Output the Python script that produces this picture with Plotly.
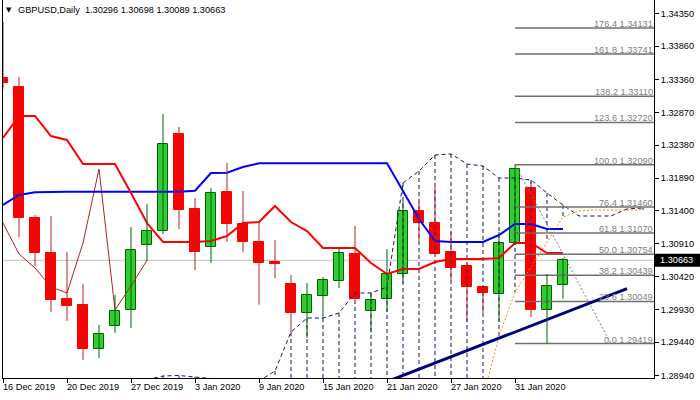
import plotly.graph_objects as go

# ---------------- data ----------------
symbol_title = "GBPUSD,Daily"
tick_idx = [0, 4, 8, 12, 16, 20, 24, 28, 32]
tick_labels = ["16 Dec 2019", "20 Dec 2019", "27 Dec 2019", "3 Jan 2020", "9 Jan 2020",
               "15 Jan 2020", "21 Jan 2020", "27 Jan 2020", "31 Jan 2020"]

opens = [1.33384, 1.33250, 1.31294, 1.30772, 1.30085, 1.29995, 1.29339, 1.29682, 1.29921, 1.30891,
         1.31100, 1.32548, 1.31429, 1.30861, 1.31682, 1.31205, 1.30936, 1.30630, 1.30309, 1.29876,
         1.30130, 1.30354, 1.30757, 1.29906, 1.30085, 1.30458, 1.31399, 1.31220, 1.30787, 1.30578,
         1.30264, 1.30160, 1.30921, 1.31742, 1.29921, 1.30296]
highs = [1.34220, 1.33399, 1.31339, 1.31324, 1.30787, 1.30309, 1.29697, 1.30145, 1.31160, 1.31503,
         1.32847, 1.32653, 1.31593, 1.31742, 1.32115, 1.31697, 1.31234, 1.30966, 1.30443, 1.30324,
         1.30413, 1.30846, 1.31175, 1.30175, 1.30831, 1.31548, 1.31533, 1.31757, 1.31085, 1.30622,
         1.30264, 1.31085, 1.32090, 1.31832, 1.30458, 1.30698]
lows = [1.33220, 1.31006, 1.30578, 1.29891, 1.29757, 1.29174, 1.29204, 1.29578, 1.29652, 1.30652,
        1.31055, 1.31130, 1.30518, 1.30622, 1.30936, 1.30787, 1.30000, 1.30398, 1.29592, 1.29503,
        1.29816, 1.30249, 1.30070, 1.29592, 1.29891, 1.30324, 1.30951, 1.30742, 1.30369, 1.29742,
        1.29876, 1.29742, 1.30891, 1.29816, 1.29419, 1.30089]
closes = [1.33310, 1.31294, 1.30772, 1.30070, 1.29980, 1.29339, 1.29563, 1.29906, 1.30817, 1.31100,
          1.32399, 1.31414, 1.30787, 1.31667, 1.31205, 1.30936, 1.30622, 1.30615, 1.29876, 1.30145,
          1.30369, 1.30772, 1.30085, 1.30070, 1.30458, 1.31399, 1.31220, 1.30757, 1.30548, 1.30264,
          1.30175, 1.30921, 1.32026, 1.29921, 1.30279, 1.30663]

tenkan = [1.32488, 1.32817, 1.32817, 1.32518, 1.32459, 1.32100, 1.32100, 1.32100, 1.31667, 1.31219,
          1.30936, 1.30936, 1.30936, 1.30951, 1.31025, 1.31219, 1.31234, 1.31473, 1.31234, 1.31100,
          1.30846, 1.30846, 1.30846, 1.30622, 1.30458, 1.30533, 1.30533, 1.30637, 1.30682, 1.30682,
          1.30682, 1.30697, 1.30921, 1.30921, 1.30772, 1.30772]
kijun = [1.31488, 1.31638, 1.31678, 1.31687, 1.31687, 1.31687, 1.31687, 1.31687, 1.31687, 1.31687,
         1.31687, 1.31687, 1.31702, 1.31966, 1.31971, 1.32056, 1.32111, 1.32111, 1.32111, 1.32111,
         1.32111, 1.32111, 1.32111, 1.32111, 1.32111, 1.31697, 1.31279, 1.30951, 1.30936, 1.30936,
         1.30936, 1.31040, 1.31205, 1.31205, 1.31130, 1.31130]
span_a = [None] * 9 + [1.28880,
          1.28936, 1.28943, 1.28921, 1.28906, 1.28876, 1.28846, 1.28861, 1.29010, 1.29592, 1.29801,
          1.29801, 1.29876, 1.30175, 1.30175, 1.30264, 1.31817, 1.31996, 1.32235, 1.32250, 1.32100,
          1.32071, 1.31891, 1.31891, 1.31861, 1.31667, 1.31488, 1.31324, 1.31324, 1.31324, 1.31429,
          1.31444]
span_b = [None] * 30 + [1.28622, 1.29532, 1.30189, 1.30563, 1.30951, 1.31309, 1.31399, 1.31414,
                        1.31414, 1.31414, 1.31414]
chikou_shift = 26

fib_levels = [0.0, 23.6, 38.2, 50.0, 61.8, 76.4, 100.0, 123.6, 138.2, 161.8, 176.4]
fib_prices = [1.29419, 1.30049, 1.30439, 1.30754, 1.31070, 1.31460, 1.32090, 1.32720, 1.33110,
              1.33741, 1.34131]
fib_start_idx = 32
fib_diag_idx = [32, 38]
fib_diag_price = [1.32090, 1.29419]

trend_idx = [24, 39]
trend_price = [1.28852, 1.30239]

y_ticks = [1.34350, 1.33860, 1.33360, 1.32870, 1.32380, 1.31890, 1.31400, 1.30910, 1.30420,
           1.29930, 1.29440, 1.28940]

# ---------------- figure ----------------
FONT = "Liberation Sans, Arial, sans-serif"
FS = 9.2
ymin, ymax = 1.289057, 1.345485
xmin, xmax = 0, 40.6875

n = len(opens)
idx = list(range(n))
fig = go.Figure()

# cloud hatch
hx, hy = [], []
for i, a in enumerate(span_a):
    if a is None:
        continue
    b = span_b[i] if i < len(span_b) else None
    if b is None:
        hx += [i, i, None]
        hy += [a, ymin, None]
    elif a > b:
        hx += [i, i, None]
        hy += [a, b, None]
fig.add_trace(go.Scatter(x=hx, y=hy, mode="lines", line=dict(color="#14145a", width=1, dash="4px,3px")))
fig.add_trace(go.Scatter(x=list(range(len(span_a))), y=span_a, mode="lines",
                         line=dict(color="#14145a", width=1, dash="4px,3px"), connectgaps=False))
fig.add_trace(go.Scatter(x=list(range(len(span_b))), y=span_b, mode="lines",
                         line=dict(color="#FF8C00", width=1, dash="2px,2px"), connectgaps=False))

# chikou
ch_x = idx[:n - chikou_shift]
ch_y = closes[chikou_shift:]
fig.add_trace(go.Scatter(x=ch_x, y=ch_y, mode="lines", line=dict(color="#B22222", width=1)))

# tenkan / kijun
fig.add_trace(go.Scatter(x=idx, y=kijun, mode="lines", line=dict(color="#0000FF", width=2)))
fig.add_trace(go.Scatter(x=idx, y=tenkan, mode="lines", line=dict(color="#FF0000", width=2)))

# fibonacci
fx, fy = [], []
for p in fib_prices:
    fx += [fib_start_idx, xmax, None]
    fy += [p, p, None]
fig.add_trace(go.Scatter(x=fx, y=fy, mode="lines", line=dict(color="#707070", width=1.5)))
fig.add_trace(go.Scatter(x=fib_diag_idx, y=fib_diag_price, mode="lines",
                         line=dict(color="#808080", width=1, dash="2px,2px")))

# trend line
fig.add_trace(go.Scatter(x=trend_idx, y=trend_price, mode="lines", line=dict(color="#000080", width=3)))

# candles
bull = [i for i in idx if closes[i] >= opens[i]]
bear = [i for i in idx if closes[i] < opens[i]]
for group, wcol in ((bull, "#006400"), (bear, "#B22222")):
    wx, wy = [], []
    for i in group:
        wx += [i, i, None]
        wy += [lows[i], highs[i], None]
    fig.add_trace(go.Scatter(x=wx, y=wy, mode="lines", line=dict(color=wcol, width=1)))
fig.add_trace(go.Bar(x=bull, base=[opens[i] for i in bull], y=[closes[i] - opens[i] for i in bull],
                     width=0.62, marker=dict(color="#32CD32", line=dict(color="#006400", width=1))))
fig.add_trace(go.Bar(x=bear, base=[closes[i] for i in bear], y=[opens[i] - closes[i] for i in bear],
                     width=0.62, marker=dict(color="#FF0000", line=dict(color="#FF0000", width=1))))

last = closes[-1]
shapes = [
    dict(type="line", xref="paper", x0=0, x1=1, yref="y", y0=last, y1=last,
         line=dict(color="#C0C0C0", width=1), layer="below"),
    dict(type="rect", xref="paper", xsizemode="pixel", xanchor=1, x0=0, x1=46,
         yref="y", ysizemode="pixel", yanchor=last, y0=-6.5, y1=6.5,
         fillcolor="black", line=dict(width=0)),
]

annotations = []
for t, lab in zip(tick_idx, tick_labels):
    annotations.append(dict(x=t, xref="x", y=0, yref="paper", text=lab, showarrow=False,
                            xanchor="left", yanchor="top", xshift=-2, yshift=-2,
                            font=dict(family=FONT, size=FS, color="black")))
for lvl, p in zip(fib_levels, fib_prices):
    annotations.append(dict(x=1, xref="paper", y=p, yref="y", text=f"{lvl:.1f} {p:.5f}",
                            showarrow=False, xanchor="right", yanchor="bottom", xshift=1, yshift=-3,
                            font=dict(family=FONT, size=FS, color="#808080")))
annotations.append(dict(x=1, xref="paper", y=last, yref="y", text=f"{last:.5f}", showarrow=False,
                        xanchor="left", yanchor="middle", xshift=4,
                        font=dict(family=FONT, size=FS, color="white")))
title_txt = (f"{symbol_title}\u00a0\u00a0{opens[-1]:.5f} {highs[-1]:.5f} "
             f"{lows[-1]:.5f} {closes[-1]:.5f}")
annotations.append(dict(x=0, xref="paper", y=1, yref="paper", text=title_txt, showarrow=False,
                        xanchor="left", yanchor="top", xshift=13, yshift=-3,
                        font=dict(family=FONT, size=FS, color="black")))
annotations.append(dict(x=0, xref="paper", y=1, yref="paper", text="▼", showarrow=False,
                        xanchor="left", yanchor="top", xshift=1, yshift=-4,
                        font=dict(family="DejaVu Sans", size=7, color="black")))

fig.update_layout(
    width=700, height=400,
    margin=dict(l=3, r=46, t=0, b=22),
    paper_bgcolor="white", plot_bgcolor="white",
    showlegend=False, barmode="overlay", bargap=0,
    shapes=shapes, annotations=annotations,
    xaxis=dict(range=[xmin, xmax], showgrid=False, zeroline=False, showline=True,
               linecolor="black", linewidth=1, ticks="outside", ticklen=4, tickcolor="black",
               tickvals=tick_idx, showticklabels=False, fixedrange=True),
    yaxis=dict(range=[ymin, ymax], side="right", showgrid=False, zeroline=False, showline=True,
               mirror=True, linecolor="black", linewidth=1, ticks="outside", ticklen=4,
               tickcolor="black", tickvals=y_ticks, ticktext=[f"{v:.5f}" for v in y_ticks],
               tickfont=dict(family=FONT, size=FS, color="black"), fixedrange=True),
)

fig.write_html("out.html", post_script="document.body.style.margin='0';",
               config={"displayModeBar": False})
